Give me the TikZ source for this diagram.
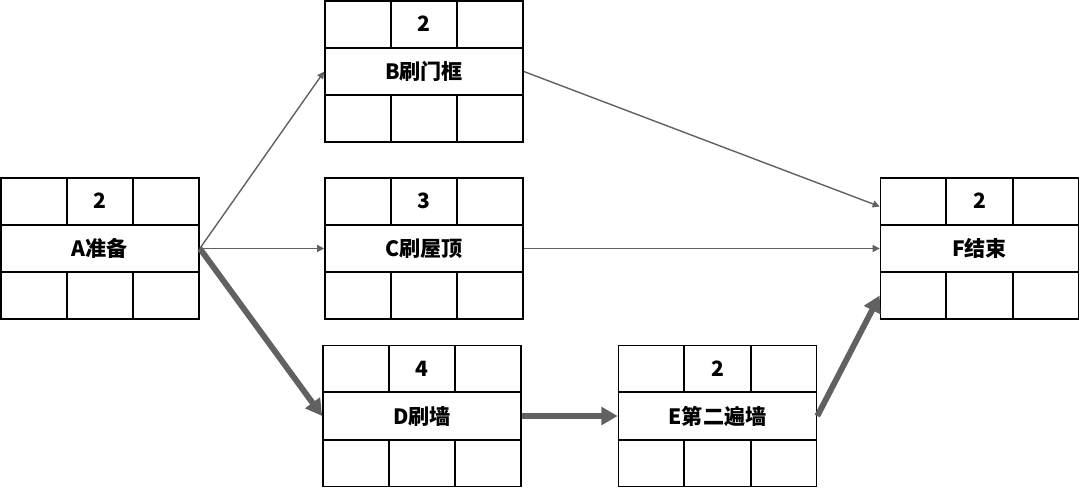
\documentclass[tikz,border=0pt]{standalone}
\usepackage{fontspec}
\setmainfont{Noto Sans CJK SC}
\usetikzlibrary{calc,arrows.meta}

\begin{document}
\begin{tikzpicture}[x=0.03cm, y=-0.03cm,
    act/.style={draw=black, line width=1.4pt, fill=white, inner sep=0pt,
      minimum width=5.94cm, minimum height=4.23cm},
    grid/.style={draw=black, line width=1.4pt},
    txt/.style={font=\fontsize{18}{20}\selectfont\bfseries, inner sep=0pt},
    flow/.style={draw=black!62, line width=1.2pt,
      -{Triangle[length=6pt,width=6pt]}},
    critflow/.style={draw=black!62, line width=5pt,
      -{Triangle[length=14pt,width=15pt]}}]
  \useasboundingbox (0,0) rectangle (1080,488);
  \def\actbox#1#2#3#4{%
    \node[act] (#1) at (#2) {};
    \draw[grid] ($(#1.north west)!1/3!(#1.south west)$) -- ($(#1.north east)!1/3!(#1.south east)$);
    \draw[grid] ($(#1.north west)!2/3!(#1.south west)$) -- ($(#1.north east)!2/3!(#1.south east)$);
    \foreach \f in {1/3,2/3} {
      \draw[grid] ($(#1.north west)!\f!(#1.north east)$) -- ++(0,47);
      \draw[grid] ($(#1.south west)!\f!(#1.south east)$) -- ++(0,-47);
    }
    \node[txt] (#1dur) at ($(#1.north)!1/6!(#1.south)$) {#3};
    \node[txt] (#1name) at (#1) {#4};
  }
  % activity boxes
  \actbox{A}{100,248.5}{2}{A准备}
  \actbox{B}{424,71.5}{2}{B刷门框}
  \actbox{C}{424,248.5}{3}{C刷屋顶}
  \actbox{D}{422,416}{4}{D刷墙}
  \actbox{E}{717.5,416}{2}{E第二遍墙}
  \actbox{F}{979.5,248.5}{2}{F结束}
  \coordinate (Ftop) at ($(F.west)+(0,-42)$);
  \coordinate (Fbot) at ($(F.west)+(0,47)$);
  % links
  \draw[flow] (A.east) -- (B.west);
  \draw[flow] (A.east) -- (C.west);
  \draw[flow] (B.east) -- (Ftop);
  \draw[flow] (C.east) -- (F.west);
  % critical path
  \draw[critflow] (A.east) -- (D.west);
  \draw[critflow] (D.east) -- (E.west);
  \draw[critflow] (E.east) -- (Fbot);
\end{tikzpicture}
\end{document}
